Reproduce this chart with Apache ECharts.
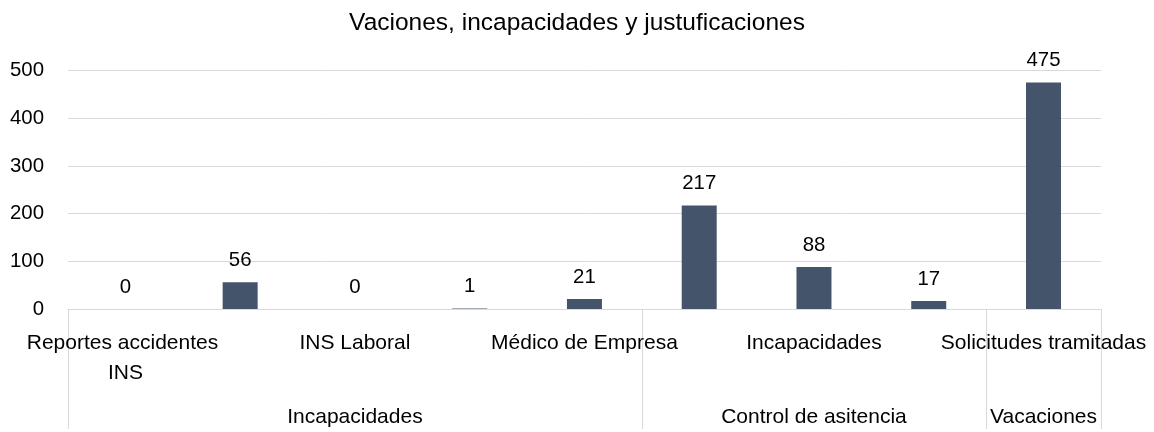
<!DOCTYPE html>
<html>
<head>
<meta charset="utf-8">
<script src="https://cdn.jsdelivr.net/npm/echarts@6/dist/echarts.min.js"></script>
<style>html,body{margin:0;padding:0;background:#fff}#c{width:1154px;height:432px}</style>
</head>
<body>
<div id="c"></div>
<script>
// Sub-categories (only every other label is visible in the reference)
const categories = ['Reportes accidentes INS', '', 'INS Laboral', '', 'Médico de Empresa', '', 'Incapacidades', '', 'Solicitudes tramitadas'];
const values = [0, 56, 0, 1, 21, 217, 88, 17, 475];
const groupNames = ['Incapacidades', 'Control de asitencia', 'Vacaciones'];
const groupSpans = [5, 3, 1];
const yTicks = [0, 100, 200, 300, 400, 500];
const titleText = 'Vaciones, incapacidades y justuficaciones';

// Build group-level axis data and boundary indices
const groupAxisData = categories.map(() => '');
const boundaries = new Set();
let start = 0;
groupSpans.forEach((span, i) => {
  boundaries.add(start);
  groupAxisData[start + Math.floor((span - 1) / 2)] = groupNames[i];
  start += span;
});

const FONT = "'Liberation Sans', Arial, sans-serif";
const chart = echarts.init(document.getElementById('c'), null, {renderer: 'canvas'});
chart.setOption({
  animation: false,
  backgroundColor: '#fff',
  textStyle: {fontFamily: FONT},
  title: {
    text: titleText, left: 'center', top: 6,
    textStyle: {fontSize: 24.5, fontWeight: 'normal', color: '#000', fontFamily: FONT}
  },
  grid: {left: 68, right: 53, top: 70.7, bottom: 120.3, containLabel: false},
  xAxis: [{
    type: 'category', data: categories,
    axisLine: {show: true, lineStyle: {color: '#d9d9d9', width: 1}},
    axisTick: {show: true, length: 120, lineStyle: {color: '#d9d9d9'},
      interval: (idx) => boundaries.has(idx)},
    axisLabel: {interval: (idx) => idx % 2 === 0, fontSize: 21, lineHeight: 30, margin: 19,
      color: '#000', fontFamily: FONT, width: 215, overflow: 'break'}
  }, {
    type: 'category', data: groupAxisData, position: 'bottom', gridIndex: 0,
    axisLine: {show: false}, axisTick: {show: false}, splitLine: {show: false},
    axisLabel: {interval: 0, fontSize: 21, lineHeight: 30, margin: 93, color: '#000', fontFamily: FONT}
  }],
  yAxis: {
    type: 'value', min: yTicks[0], max: yTicks[yTicks.length - 1], interval: yTicks[1] - yTicks[0],
    axisLine: {show: false}, axisTick: {show: false},
    splitLine: {lineStyle: {color: '#d9d9d9', width: 1}},
    axisLabel: {fontSize: 20.4, color: '#000', margin: 24, fontFamily: FONT}
  },
  series: [{
    type: 'bar', data: values, xAxisIndex: 0, barWidth: 35,
    itemStyle: {color: '#44546a'},
    label: {show: true, position: 'top', distance: 12, fontSize: 20.4, color: '#000', fontFamily: FONT}
  }]
});
</script>
</body>
</html>
